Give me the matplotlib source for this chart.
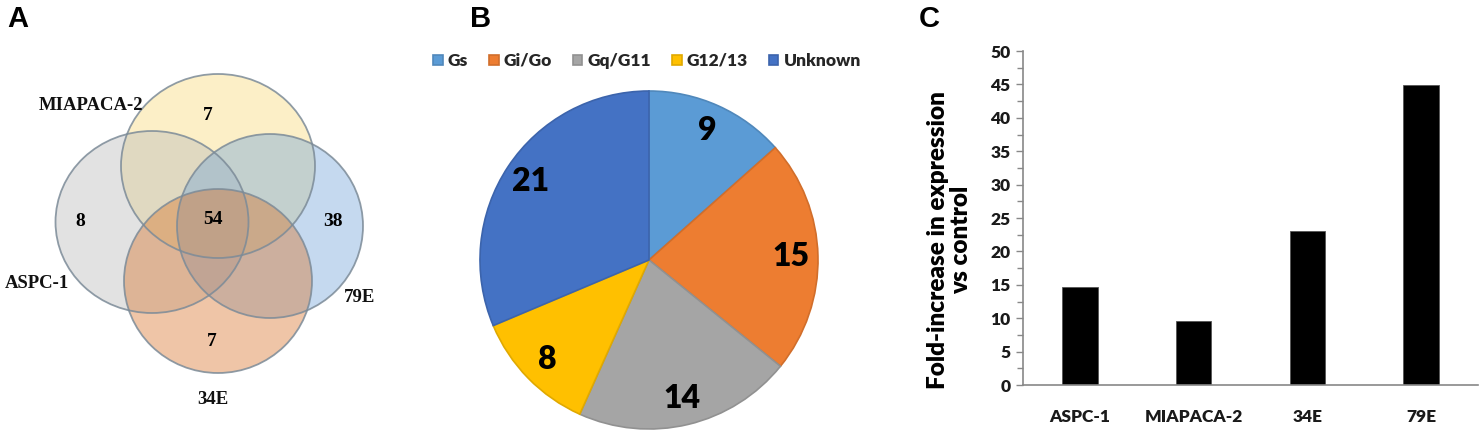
import numpy as np
import matplotlib
matplotlib.use("Agg")
import matplotlib.pyplot as plt
from matplotlib.patches import Ellipse
from matplotlib.ticker import MultipleLocator
import matplotlib.colors as mcolors

W, H = 1483, 437

# panel A: venn of four cell lines
venn_sets = ["MIAPACA-2", "ASPC-1", "79E", "34E"]
venn_colors = ["#F8D775", "#B8B8B8", "#6EA2D9", "#D77025"]
venn_regions = ["MIAPACA-2 only", "ASPC-1 only", "all", "79E only", "34E only"]
venn_counts = [7, 8, 54, 38, 7]

# panel B: G protein coupling
pie_labels = ["Gs", "Gi/Go", "Gq/G11", "G12/13", "Unknown"]
pie_values = [9, 15, 14, 8, 21]
pie_colors = ["#5B9BD5", "#ED7D31", "#A5A5A5", "#FFC000", "#4472C4"]

# panel C: fold increase
bar_labels = ["ASPC-1", "MIAPACA-2", "34E", "79E"]
bar_values = [14.6, 9.6, 23.1, 44.9]

serif = "Liberation Serif"
sans = "Lato"

fig = plt.figure(figsize=(W / 100, H / 100), dpi=100)


def px_rect(x0, y0, x1, y1):
    # pixel box (y from top) -> figure fraction
    return [x0 / W, 1 - y1 / H, (x1 - x0) / W, (y1 - y0) / H]


# ---------------- A ----------------
axa = fig.add_axes(px_rect(0, 0, 420, 437))
axa.set_xlim(0, 420)
axa.set_ylim(437, 0)
axa.axis("off")

# layout of the circles in pixels (centre x, centre y, width, height)
circ = [(218, 166, 194, 184), (152, 222, 193, 182), (270, 226, 186, 184), (218, 281, 188, 184)]
for (cx, cy, w, h), c in zip(circ, venn_colors):
    axa.add_patch(Ellipse((cx, cy), w, h, facecolor=c, alpha=0.4, edgecolor="none"))
for (cx, cy, w, h) in circ:
    axa.add_patch(Ellipse((cx, cy), w, h, facecolor="none", edgecolor="#7C8B98", lw=1.3, alpha=0.85))

count_pos = [(208, 116), (80, 221), (213, 219), (333, 221), (212, 341)]
for (x, y), n in zip(count_pos, venn_counts):
    axa.text(x, y, str(n), ha="center", va="center", fontsize=14, fontweight="bold", family=serif)

label_pos = [(91, 106), (37, 284), (360, 298), (213, 400)]
for (x, y), s in zip(label_pos, venn_sets):
    axa.text(x, y, s, ha="center", va="center", fontsize=13.5, fontweight="bold", family=serif,
             color="#111111")

# ---------------- B ----------------
r_px = 169
cx, cy = 649, 260
lim = 1.03
axb = fig.add_axes(px_rect(cx - r_px * lim, cy - r_px * lim, cx + r_px * lim, cy + r_px * lim))
edge = [tuple(np.array(mcolors.to_rgb(c)) * 0.88) for c in pie_colors]
wedges, _, autotexts = axb.pie(pie_values, colors=pie_colors, startangle=90, counterclock=False,
                               autopct=lambda p: "{:.0f}".format(p * sum(pie_values) / 100),
                               pctdistance=0.84,
                               wedgeprops=dict(linewidth=1.2))
for wdg, e in zip(wedges, edge):
    wdg.set_edgecolor(e)
for t in autotexts:
    t.set_fontsize(23)
    t.set_fontweight("heavy")
    t.set_family(sans)
    t.set_color("black")
axb.set_xlim(-lim, lim)
axb.set_ylim(-lim, lim)
axb.set_aspect("equal")
leg = axb.legend(wedges, pie_labels, loc="center", ncol=5, frameon=False,
                 bbox_to_anchor=(647 / W, 1 - 61 / H), bbox_transform=fig.transFigure,
                 handlelength=0.55, handleheight=0.55, handletextpad=0.3, columnspacing=1.2,
                 prop=dict(family=sans, weight="heavy", size=12.5))
for t in leg.get_texts():
    t.set_color("#262626")

# ---------------- C ----------------
axc = fig.add_axes(px_rect(1023, 51, 1478, 385))
x = np.arange(len(bar_values))
axc.bar(x, bar_values, width=0.31, color="black", edgecolor="#555555", linewidth=0.6)
axc.set_xlim(-0.5, 3.5)
axc.set_ylim(0, 50)
axc.set_xticks(x)
axc.set_xticklabels(bar_labels)
axc.yaxis.set_major_locator(MultipleLocator(5))
axc.yaxis.set_minor_locator(MultipleLocator(2.5))
for s in ["top", "right"]:
    axc.spines[s].set_visible(False)
for s in ["left", "bottom"]:
    axc.spines[s].set_color("#888888")
    axc.spines[s].set_linewidth(1.2)
axc.tick_params(axis="y", which="major", length=5, width=1, color="#888888", pad=4)
axc.tick_params(axis="y", which="minor", length=4, width=1, color="#888888")
axc.tick_params(axis="x", length=0, pad=17)
for t in axc.get_xticklabels() + axc.get_yticklabels():
    t.set_family(sans)
    t.set_fontweight("heavy")
    t.set_fontsize(12.5)
    t.set_color("#1a1a1a")
axc.set_ylabel("Fold-increase in expression\nvs control", family=sans, fontweight="heavy",
               fontsize=17.5, linespacing=1.05)
axc.yaxis.set_label_coords(-0.112, 0.434)

# panel letters
for s, xp in [("A", 7), ("B", 470), ("C", 919)]:
    fig.text(xp / W, 1 - 19 / H, s, ha="left", va="center", fontsize=21, fontweight="bold",
             family="Liberation Sans")

fig.savefig("out.png", dpi=100)
